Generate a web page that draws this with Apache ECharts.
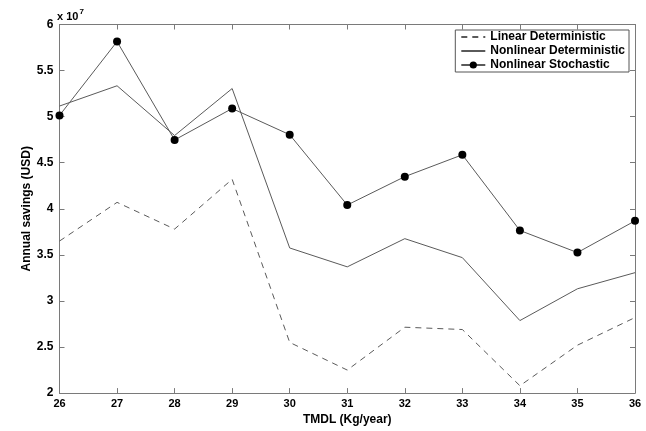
<!DOCTYPE html>
<html>
<head>
<meta charset="utf-8">
<script src="https://cdn.jsdelivr.net/npm/echarts@6/dist/echarts.min.js"></script>
<style>html,body{margin:0;padding:0;background:#fff}#c{width:646px;height:431px}</style>
</head>
<body>
<div id="c"></div>
<script>
const categories = [26, 27, 28, 29, 30, 31, 32, 33, 34, 35, 36];
const linearDet = [3.65, 4.07, 3.78, 4.32, 2.55, 2.25, 2.715, 2.69, 2.08, 2.52, 2.82];
const nonlinearDet = [5.115, 5.335, 4.795, 5.305, 3.575, 3.37, 3.676, 3.47, 2.787, 3.132, 3.307];
const nonlinearSto = [5.013, 5.815, 4.747, 5.088, 4.804, 4.041, 4.349, 4.586, 3.765, 3.525, 3.869];
const seriesNames = ['Linear Deterministic', 'Nonlinear Deterministic', 'Nonlinear Stochastic'];
const scale = 1e7;

const toPairs = arr => categories.map((c, i) => [c, arr[i] * scale]);
const font = 'Liberation Sans, Arial, sans-serif';
const axisGray = '#7a7a7a';
const lineGray = '#5a5a5a';

const chart = echarts.init(document.getElementById('c'), null, {renderer: 'canvas'});
const baseX = {
  type: 'value', min: 26, max: 36, interval: 1,
  axisLine: {show: true, lineStyle: {color: axisGray, width: 1}},
  axisTick: {show: true, inside: true, length: 5, lineStyle: {color: axisGray}},
  splitLine: {show: false}
};
const baseY = {
  type: 'value', min: 2 * scale, max: 6 * scale, interval: 0.5 * scale,
  axisLine: {show: true, lineStyle: {color: axisGray, width: 1}},
  axisTick: {show: true, inside: true, length: 5, lineStyle: {color: axisGray}},
  splitLine: {show: false}
};
chart.setOption({
  animation: false,
  backgroundColor: '#fff',
  grid: {left: 59.5, right: 11, top: 24.5, bottom: 34.5},
  xAxis: [
    Object.assign({}, baseX, {
      position: 'bottom',
      name: 'TMDL (Kg/year)', nameLocation: 'middle', nameGap: 19,
      nameTextStyle: {fontFamily: font, fontSize: 12, color: '#000', fontWeight: 'bold'},
      axisLabel: {fontFamily: font, fontSize: 11, color: '#000', fontWeight: 'bold', margin: 5,
        formatter: v => String(v)}
    }),
    Object.assign({}, baseX, {position: 'top', axisLabel: {show: false}})
  ],
  yAxis: [
    Object.assign({}, baseY, {
      position: 'left',
      name: 'Annual savings (USD)', nameLocation: 'middle', nameGap: 27, nameMoveOverlap: false,
      nameTextStyle: {fontFamily: font, fontSize: 12, color: '#000', fontWeight: 'bold'},
      axisLabel: {fontFamily: font, fontSize: 12, color: '#000', fontWeight: 'bold', margin: 6,
        formatter: v => String(Math.round(v / scale * 10) / 10)}
    }),
    Object.assign({}, baseY, {position: 'right', axisLabel: {show: false}})
  ],
  legend: {
    right: 17, top: 30, orient: 'vertical',
    padding: [1, 4, 1, 5], itemGap: 2, itemWidth: 24, itemHeight: 9,
    backgroundColor: '#fff', borderColor: '#555', borderWidth: 1,
    textStyle: {fontFamily: font, fontSize: 12, fontWeight: 'bold', color: '#000', lineHeight: 11},
    data: [
      {name: seriesNames[0], itemStyle: {opacity: 0}},
      {name: seriesNames[1], itemStyle: {opacity: 0}},
      {name: seriesNames[2]}
    ]
  },
  graphic: [{
    type: 'text', left: 57, top: 8,
    style: {
      text: '{a|x 10}{b|7}',
      rich: {
        a: {fontFamily: font, fontSize: 11, fontWeight: 'bold', fill: '#000', verticalAlign: 'bottom'},
        b: {fontFamily: font, fontSize: 8, fontWeight: 'bold', fill: '#000', verticalAlign: 'top', padding: [0, 0, 6, 1]}
      }
    }
  }],
  series: [
    {name: seriesNames[0], type: 'line', data: toPairs(linearDet), symbol: 'none',
      lineStyle: {color: lineGray, width: 1, type: [6, 5]}, itemStyle: {color: lineGray}},
    {name: seriesNames[1], type: 'line', data: toPairs(nonlinearDet), symbol: 'none',
      lineStyle: {color: lineGray, width: 1}, itemStyle: {color: lineGray}},
    {name: seriesNames[2], type: 'line', data: toPairs(nonlinearSto), symbol: 'circle', symbolSize: 8,
      lineStyle: {color: lineGray, width: 1}, itemStyle: {color: '#000'}}
  ]
});
</script>
</body>
</html>
